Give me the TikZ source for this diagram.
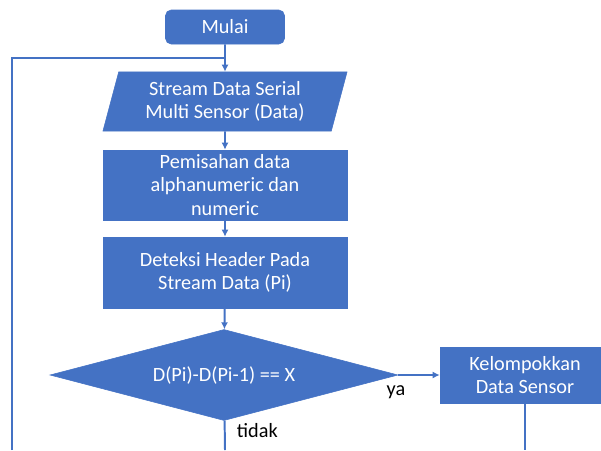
\documentclass[tikz,border=0pt]{standalone}
\usepackage{xcolor}
\usepackage{tikz}
\usepackage{fontspec}
\setmainfont{Carlito}
\usetikzlibrary{shapes, arrows.meta, positioning}
\definecolor{boxblue}{HTML}{4472C4}

\begin{document}
\begin{tikzpicture}[x=0.025cm,y=-0.025cm,>={Latex[length=5pt,width=5pt]}]
        \useasboundingbox (0,0) rectangle (601,450);
        \begin{scope}[every node/.style={fill=boxblue,draw=boxblue,text=white,align=center,font=\fontsize{14.4}{16.5}\selectfont,inner sep=2pt}]
          \node[rounded corners=4pt,minimum width=2.975cm,minimum height=0.85cm] (mulai) at (225,27) {Mulai};
          \node[trapezium,trapezium left angle=71,trapezium right angle=109,trapezium stretches body,minimum width=6.1cm,minimum height=1.475cm] (stream) at (225,101.5) {Stream Data Serial\\Multi Sensor (Data)};
          \node[minimum width=6.1cm,minimum height=1.75cm] (pisah) at (225,185) {Pemisahan data\\alphanumeric dan\\numeric};
          \node[minimum width=6.1cm,minimum height=1.775cm] (deteksi) at (225,272.5) {Deteksi Header Pada\\Stream Data (Pi)};
          \node[diamond,aspect=3.8,inner sep=0pt,minimum width=8.7cm,minimum height=2.275cm] (cek) at (224,375) {D(Pi)-D(Pi-1) == X};
          \node[minimum width=4.25cm,minimum height=1.4cm] (kelompok) at (525,375) {Kelompokkan\\Data Sensor};
        \end{scope}
        \node[font=\fontsize{14.4}{16.5}\selectfont] (ya) at (396,392) {ya};
        \node[font=\fontsize{14.4}{16.5}\selectfont,anchor=west] (tidak) at (232,431) {tidak};
        \coordinate (loopbot) at (12,450);
        \coordinate (loopjoin) at (225,58);
        \coordinate (tidakbot) at (225,450);
        \coordinate (kelbot) at (525,450);
        \begin{scope}[every edge/.style={draw=boxblue,line width=1.4pt}]
          \path (mulai) edge[->] (stream);
          \path (stream) edge[->] (pisah);
          \path (pisah) edge[->] (deteksi);
          \path (deteksi) edge[->] (cek);
          \path (cek.east) edge[->] (kelompok);
          \path (cek) edge (tidakbot);
          \path (kelompok) edge (kelbot);
          %\path (loopbot) edge (loopjoin);
        \end{scope}
        \draw[boxblue,line width=1.4pt] (loopbot) |- (loopjoin);
      \end{tikzpicture}
\end{document}
